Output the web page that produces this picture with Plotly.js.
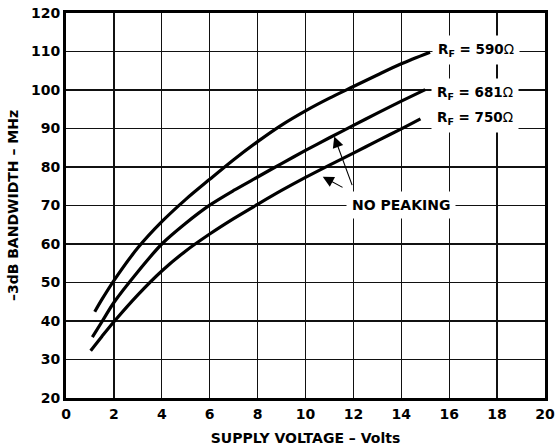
<!DOCTYPE html>
<html>
<head>
<meta charset="utf-8">
<script src="https://cdn.plot.ly/plotly-3.0.1.min.js"></script>
<style>html,body{margin:0;padding:0;background:#fff;}#chart{width:556px;height:446px;}</style>
</head>
<body>
<div id="chart"></div>
<script>
// Supply voltage (V) and -3dB bandwidth (MHz)
const rf590_x = [1.2, 1.5, 2, 3, 4, 5, 6, 7, 8, 9, 10, 11, 12, 13, 14, 15.2];
const rf590_y = [42.4, 45.6, 50.5, 59.0, 65.8, 71.6, 76.8, 81.9, 86.6, 90.9, 94.6, 97.9, 100.9, 103.9, 106.8, 109.8];
const rf681_x = [1.1, 1.5, 2, 3, 4, 5, 6, 7, 8, 9, 10, 11, 12, 13, 14, 15];
const rf681_y = [35.8, 39.8, 44.8, 52.8, 60.0, 65.4, 70.1, 73.9, 77.4, 80.9, 84.3, 87.6, 90.8, 94.0, 97.1, 100.1];
const rf750_x = [1.03, 1.5, 2, 3, 4, 5, 6, 7, 8, 9, 10, 11, 12, 13, 14, 14.8];
const rf750_y = [32.3, 36.0, 39.8, 46.8, 53.0, 58.2, 62.6, 66.6, 70.3, 73.9, 77.3, 80.5, 83.6, 86.8, 89.9, 92.5];

const seriesLabels = ["R<sub>F</sub> = 590<span style=\"font-weight:normal\">Ω</span>",
                      "R<sub>F</sub> = 681<span style=\"font-weight:normal\">Ω</span>",
                      "R<sub>F</sub> = 750<span style=\"font-weight:normal\">Ω</span>"];
const noteLabel = "NO PEAKING";
const xTickVals = [0, 2, 4, 6, 8, 10, 12, 14, 16, 18, 20];
const yTickVals = [20, 30, 40, 50, 60, 70, 80, 90, 100, 110, 120];
const xTitle = "SUPPLY VOLTAGE – Volts";
const yTitle = "–3dB BANDWIDTH – MHz";

const FONT = "DejaVu Sans, Verdana, sans-serif";
const lineStyle = {color: "#000", width: 3.2, shape: "spline", smoothing: 0.8};

const traces = [
  {x: rf590_x, y: rf590_y, mode: "lines", line: lineStyle, hoverinfo: "skip"},
  {x: rf681_x, y: rf681_y, mode: "lines", line: lineStyle, hoverinfo: "skip"},
  {x: rf750_x, y: rf750_y, mode: "lines", line: lineStyle, hoverinfo: "skip"}
];

const labelFont = {family: FONT, size: 13.5, color: "#000"};
const labelPos = [[17.1, 110.4], [17.06, 99.3], [17.06, 92.65]];
const annotations = seriesLabels.map((t, i) => ({
  x: labelPos[i][0], y: labelPos[i][1], xref: "x", yref: "y",
  text: "<b>" + t + "</b>", showarrow: false, font: labelFont,
  bgcolor: "#fff", borderpad: 5
}));
annotations.push({
  x: 13.99, y: 70.1, xref: "x", yref: "y", text: "<b>" + noteLabel + "</b>",
  showarrow: false, font: {family: FONT, size: 14, color: "#000"}, bgcolor: "#fff", borderpad: 5
});
// arrows from the note to the curves
annotations.push({x: 10.72, y: 77.5, xref: "x", yref: "y", axref: "x", ayref: "y",
  ax: 11.61, ay: 74.5, text: "", showarrow: true, arrowhead: 2, arrowsize: 2, arrowwidth: 1.1, arrowcolor: "#000"});
annotations.push({x: 11.2, y: 87.9, xref: "x", yref: "y", axref: "x", ayref: "y",
  ax: 11.97, ay: 74.9, text: "", showarrow: true, arrowhead: 2, arrowsize: 2, arrowwidth: 1.1, arrowcolor: "#000"});

const axisCommon = {
  showgrid: true, gridcolor: "#111", gridwidth: 1.3,
  showline: true, linecolor: "#000", linewidth: 3, mirror: true,
  zeroline: false, ticks: "", fixedrange: true,
  tickfont: {family: FONT, size: 14, color: "#000"}
};

const layout = {
  width: 556, height: 446,
  margin: {l: 66, r: 11, t: 13, b: 48},
  paper_bgcolor: "#fff", plot_bgcolor: "#fff",
  showlegend: false,
  xaxis: Object.assign({}, axisCommon, {
    range: [0, 20], tickvals: xTickVals, ticktext: xTickVals.map(v => "<b>" + v + "</b>"),
    ticklabelstandoff: 1,
    title: {text: "<b>" + xTitle + "</b>", font: {family: FONT, size: 14, color: "#000"}, standoff: 13}
  }),
  yaxis: Object.assign({}, axisCommon, {
    range: [20, 120], tickvals: yTickVals, ticktext: yTickVals.map(v => "<b>" + v + "</b>"),
    ticklabelstandoff: 0,
    title: {text: "<b>" + yTitle + "</b>", font: {family: FONT, size: 14, color: "#000"}, standoff: 10}
  }),
  annotations: annotations
};

Plotly.newPlot("chart", traces, layout, {staticPlot: true, displayModeBar: false});
</script>
</body>
</html>
